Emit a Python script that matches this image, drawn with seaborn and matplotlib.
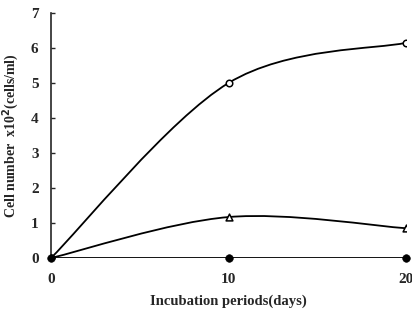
import numpy as np
import matplotlib
matplotlib.use("Agg")
import matplotlib.pyplot as plt
import seaborn as sns
from matplotlib.path import Path
from matplotlib.patches import PathPatch

# Data
days = [0, 10, 20]
open_circle = [0.0, 5.0, 6.15]
open_triangle = [0.0, 1.17, 0.85]
filled_circle = [0.0, 0.0, 0.0]

sns.set_style("ticks")
plt.rcParams["font.family"] = ["Liberation Serif", "DejaVu Serif"]
plt.rcParams["font.weight"] = "bold"


def smooth_path(x, y):
    # Catmull-Rom style smoothing (like spreadsheet "smoothed line")
    pts = np.column_stack([x, y]).astype(float)
    verts = [pts[0]]
    codes = [Path.MOVETO]
    n = len(pts)
    for i in range(n - 1):
        p0 = pts[i - 1] if i > 0 else pts[i]
        p1 = pts[i]
        p2 = pts[i + 1]
        p3 = pts[i + 2] if i + 2 < n else pts[i + 1]
        c1 = p1 + (p2 - p0) / 6
        c2 = p2 - (p3 - p1) / 6
        verts += [c1, c2, p2]
        codes += [Path.CURVE4] * 3
    return Path(verts, codes)


fig = plt.figure(figsize=(4.12, 3.15), dpi=100)
ax = fig.add_axes([51 / 412, 1 - 258 / 315, 355 / 412, 245 / 315])

for yv in (open_circle, open_triangle, filled_circle):
    ax.add_patch(PathPatch(smooth_path(days, yv), fill=False,
                           edgecolor="black", lw=1.3, zorder=2))

sns.scatterplot(x=days, y=open_circle, ax=ax, marker="o", s=22,
                facecolor="white", edgecolor="black", linewidth=1.1, zorder=3)
sns.scatterplot(x=days, y=open_triangle, ax=ax, marker="^", s=24,
                facecolor="white", edgecolor="black", linewidth=1.1, zorder=3)
sns.scatterplot(x=days, y=filled_circle, ax=ax, marker="o", s=30,
                color="black", edgecolor="black", zorder=4, clip_on=False)

ax.set_xlim(0, 20)
ax.set_ylim(0, 7)
ax.set_xticks([0, 10, 20])
ax.set_yticks(range(0, 8))
ax.tick_params(axis="y", direction="in", length=3, width=1, labelsize=11, pad=9)
ax.tick_params(axis="x", length=0, labelsize=11, pad=11)
for lab in ax.get_xticklabels() + ax.get_yticklabels():
    lab.set_fontweight("bold")

sns.despine(ax=ax, top=True, right=True, bottom=True)
ax.spines["left"].set_linewidth(1.2)

ax.set_xlabel("Incubation periods(days)", fontsize=10.5, fontweight="bold", labelpad=6)
ax.set_ylabel(r"Cell number  x10$^{\mathbf{2}}$(cells/ml)", fontsize=10,
              fontweight="bold", labelpad=7)

fig.savefig("out.png", dpi=100)
